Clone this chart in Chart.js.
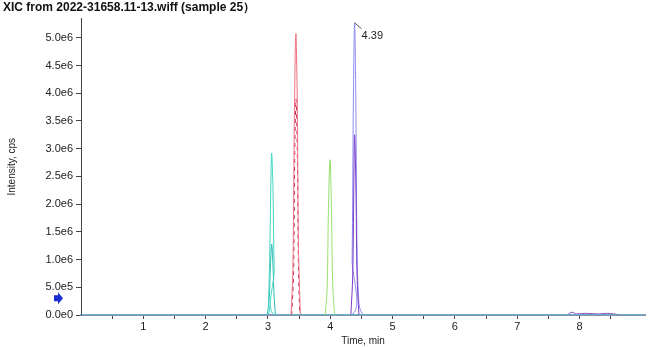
<!DOCTYPE html>
<html>
<head>
<meta charset="utf-8">
<script src="https://cdn.jsdelivr.net/npm/chart.js@4.4.1/dist/chart.umd.min.js"></script>
<style>
  html, body { margin: 0; padding: 0; background: #fff; }
  #wrap { width: 650px; height: 347px; }
</style>
</head>
<body>
<div id="wrap"><canvas id="myChart"></canvas></div>
<script>
const cyanT  = [0, 2.98, 3.01, 3.03, 3.05, 3.06, 3.08, 3.10, 3.13, 9.05];
const cyanY  = [0, 0, 0.3e6, 1.2e6, 2.6e6, 2.92e6, 2.3e6, 0.8e6, 0, 0];
const cyan2T = [2.99, 3.02, 3.04, 3.06, 3.08, 3.10, 3.12];
const cyan2Y = [0, 0.3e6, 0.9e6, 1.28e6, 0.9e6, 0.3e6, 0];
const redT   = [3.37, 3.40, 3.42, 3.44, 3.45, 3.47, 3.49, 3.52];
const redY   = [0, 0.8e6, 3.2e6, 4.9e6, 5.07e6, 3.9e6, 1.2e6, 0];
const red2T  = [3.38, 3.41, 3.43, 3.45, 3.47, 3.49, 3.51];
const red2Y  = [0, 0.7e6, 2.9e6, 3.9e6, 3.0e6, 0.8e6, 0];
const greenT = [3.92, 3.95, 3.97, 3.99, 4.00, 4.02, 4.04, 4.07];
const greenY = [0, 0.5e6, 1.9e6, 2.75e6, 2.8e6, 1.8e6, 0.5e6, 0];
const blueT  = [0, 4.32, 4.35, 4.37, 4.39, 4.41, 4.43, 4.46, 4.50, 4.55, 9.05];
const blueY  = [0, 0, 1.0e6, 3.8e6, 5.27e6, 3.9e6, 1.1e6, 0.2e6, 0.05e6, 0, 0];
const purpT  = [4.33, 4.36, 4.38, 4.39, 4.41, 4.43, 4.46];
const purpY  = [0, 0.7e6, 2.6e6, 3.25e6, 2.4e6, 0.7e6, 0];
const tailT  = [7.80, 7.88, 7.95, 8.10, 8.30, 8.45, 8.55, 8.65];
const tailY  = [0, 0.05e6, 0.02e6, 0.03e6, 0.02e6, 0.03e6, 0.02e6, 0];
const yTicks = [0, 0.5e6, 1.0e6, 1.5e6, 2.0e6, 2.5e6, 3.0e6, 3.5e6, 4.0e6, 4.5e6, 5.0e6];
const apexT = 4.39, apexY = 5.27e6, apexLabel = '4.39';
const arrowY = 0.3e6;

function pts(t, y) { return t.map((v, i) => ({x: v, y: y[i]})); }
function trace(t, y, color, dash) {
  return {data: pts(t, y), borderColor: color, borderWidth: 1, pointRadius: 0,
          tension: 0.3, borderDash: dash || [], fill: false};
}

const extras = {
  id: 'extras',
  afterDraw(chart) {
    const c = chart.ctx, xs = chart.scales.x, ys = chart.scales.y;
    // apex label
    const px = xs.getPixelForValue(apexT), py = ys.getPixelForValue(apexY);
    c.save();
    c.strokeStyle = '#555'; c.lineWidth = 1;
    c.beginPath(); c.moveTo(px, py); c.lineTo(px + 7, py + 6); c.stroke();
    c.fillStyle = '#222'; c.font = '11px "Liberation Sans", Arial';
    c.textBaseline = 'middle';
    c.fillText(apexLabel, px + 7, py + 13);
    // blue threshold arrow left of the axis
    const ay = ys.getPixelForValue(arrowY), ax = xs.left - 27;
    c.fillStyle = '#1a2fd0';
    c.beginPath();
    c.moveTo(ax, ay - 3); c.lineTo(ax + 4, ay - 3); c.lineTo(ax + 4, ay - 6);
    c.lineTo(ax + 9, ay); c.lineTo(ax + 4, ay + 6); c.lineTo(ax + 4, ay + 3);
    c.lineTo(ax, ay + 3); c.closePath(); c.fill();
    c.restore();
  }
};

const config = {
  type: 'line',
  data: {
    datasets: [
      trace(cyanT, cyanY, '#3fd6c4'),
      trace(cyan2T, cyan2Y, '#2fb8b0'),
      trace(redT, redY, '#f07080'),
      trace(red2T, red2Y, '#c02850', [4, 4]),
      trace(greenT, greenY, '#98e070'),
      trace(tailT, tailY, '#9050c0'),
      trace(purpT, purpY, '#7a3cc8'),
      trace(blueT, blueY, '#8c8cf0')
    ]
  },
  options: {
    responsive: true,
    maintainAspectRatio: false,
    animation: false,
    layout: {padding: {left: 3, right: 5, top: 0, bottom: 0}},
    plugins: {
      legend: {display: false},
      tooltip: {enabled: false},
      title: {
        display: true,
        text: 'XIC from 2022-31658.11-13.wiff (sample 25）',
        align: 'start',
        color: '#111',
        font: {family: '"Liberation Sans", Arial', size: 12, weight: 'bold'},
        padding: {top: 0, bottom: 4}
      }
    },
    scales: {
      x: {
        type: 'linear',
        min: 0, max: 9.05,
        afterFit(s) { s.height = 32; },
        afterBuildTicks(s) { s.ticks = s.ticks.filter(t => t.value > 0 && t.value <= 9); },
        ticks: {
          stepSize: 0.5, autoSkip: false, maxRotation: 0, padding: 1,
          color: '#222', font: {family: '"Liberation Sans", Arial', size: 11},
          callback: v => Number.isInteger(v) ? String(v) : ''
        },
        grid: {drawOnChartArea: false, tickLength: 4, color: '#444'},
        border: {color: '#8890b0', width: 2},
        title: {display: true, text: 'Time, min', color: '#222', padding: 0,
                font: {family: '"Liberation Sans", Arial', size: 10}}
      },
      y: {
        min: 0, max: 5.35e6,
        afterFit(s) { s.width = 78; },
        afterBuildTicks(s) { s.ticks = yTicks.map(v => ({value: v})); },
        ticks: {
          autoSkip: false, padding: 3, color: '#222',
          font: {family: '"Liberation Sans", Arial', size: 11},
          callback: v => v.toExponential(1).replace('e+', 'e')
        },
        grid: {drawOnChartArea: false, tickLength: 5, color: '#444'},
        border: {color: '#444', width: 1},
        title: {display: true, text: 'Intensity, cps', color: '#222', padding: {top: 3, bottom: 0},
                font: {family: '"Liberation Sans", Arial', size: 10}}
      }
    }
  },
  plugins: [extras]
};

const myChart = new Chart(document.getElementById('myChart'), config);
</script>
</body>
</html>
